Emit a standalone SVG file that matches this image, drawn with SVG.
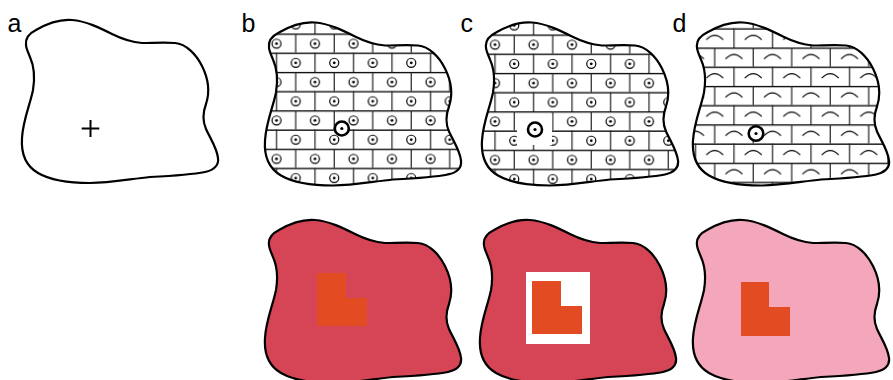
<svg xmlns="http://www.w3.org/2000/svg" xmlns:xlink="http://www.w3.org/1999/xlink" width="893" height="380" viewBox="0 0 893 380">
<style>
.outline{stroke:#000;stroke-width:2.2;stroke-linejoin:round}
.lbl{font-family:"Liberation Sans",Arial,sans-serif;font-size:25px;fill:#000}
.big{fill:#fff;stroke:#000;stroke-width:2.6}
.hl{fill:#000}
.vl{fill:#222}
.sc{fill:none;stroke:#000;stroke-width:1.2}
.arc{fill:none;stroke:#000;stroke-width:1.1}
.red{fill:#d64556}
.pink{fill:#f4a6bb}
.org{fill:#e34c22}
</style>
<defs>
<path id="blob" d="M26,45 C25,38 30,33 36,30 C48,23 60,19 72,20 C86,21 100,28 112,34 C122,39 130,42 142,43 C152,43 165,42 175,43 C186,44 196,54 202,66 C208,78 210,92 206,104 C203,112 202,120 206,129 C210,138 217,148 218,158 C219,166 214,170 205,172 C190,175 170,176 150,177 C130,179 110,183 90,183 C70,183 50,180 38,173 C26,166 21,153 22,138 C23,120 30,105 33,90 C35,78 34,66 30,57 C28,52 26,48 26,45 Z"/>
<g id="tc">
<rect width="38.5" height="38.4" fill="#fff"/>
<rect class="hl" x="0" y="0" width="38.5" height="1.3"/>
<rect class="hl" x="0" y="19.2" width="38.5" height="1.3"/>
<rect class="vl" x="28.275" y="0" width="1.2" height="19.2"/>
<rect class="vl" x="9.025" y="19.2" width="1.2" height="19.2"/>
<circle class="sc" cx="9.625" cy="10.15" r="4.5"/>
<circle cx="9.625" cy="10.15" r="1.4" fill="#000"/>
<circle class="sc" cx="28.875" cy="29.35" r="4.5"/>
<circle cx="28.875" cy="29.35" r="1.4" fill="#000"/>
</g>
<g id="td">
<rect width="38.5" height="38.4" fill="#fff"/>
<rect class="hl" x="0" y="0" width="38.5" height="1.3"/>
<rect class="hl" x="0" y="19.2" width="38.5" height="1.3"/>
<rect class="vl" x="28.275" y="0" width="1.2" height="19.2"/>
<rect class="vl" x="9.025" y="19.2" width="1.2" height="19.2"/>
<path class="arc" d="M1.125,11.5 Q9.625,2.6 18.125,11.5"/>
<path class="arc" d="M20.375,30.7 Q28.875,21.8 37.375,30.7"/>
</g>
<pattern id="pb" patternUnits="userSpaceOnUse" x="293.375" y="31" width="38.5" height="38.4"><use href="#tc"/></pattern>
<pattern id="pc" patternUnits="userSpaceOnUse" x="487.4" y="32" width="38.5" height="38.4"><use href="#tc"/></pattern>
<pattern id="pd" patternUnits="userSpaceOnUse" x="707.875" y="45" width="38.5" height="38.4"><use href="#td"/></pattern>
</defs>
<rect width="893" height="380" fill="#fff"/>

<g id="panel-a">
<use href="#blob" class="outline" fill="#fff"/>
<path d="M81.7,128.5 H99.3 M90.5,120 V137" stroke="#000" stroke-width="2"/>
<text class="lbl" x="7.5" y="31.5">a</text>
</g>

<g id="panel-b-top">
<use href="#blob" class="outline" fill="url(#pb)" transform="translate(243,2.5)"/>
<circle class="big" cx="341.8" cy="128.5" r="7"/>
<circle cx="341.8" cy="128.5" r="1.6" fill="#000"/>
<text class="lbl" x="241.5" y="31.5">b</text>
</g>

<g id="panel-c-top">
<use href="#blob" class="outline" fill="url(#pc)" transform="translate(460,2.5)"/>
<rect x="517" y="114" width="35" height="31" fill="#fff"/>
<circle class="big" cx="535" cy="129.5" r="7"/>
<circle cx="535" cy="129.5" r="1.6" fill="#000"/>
<text class="lbl" x="460.5" y="31.5">c</text>
</g>

<g id="panel-d-top">
<use href="#blob" class="outline" fill="url(#pd)" transform="translate(671,2.5)"/>
<circle class="big" cx="756" cy="133.5" r="7.3"/>
<circle cx="756" cy="133.5" r="1.6" fill="#000"/>
<text class="lbl" x="672.5" y="31.5">d</text>
</g>

<g id="panel-b-bottom">
<use href="#blob" class="outline red" transform="translate(243,200)"/>
<polygon class="org" points="317,273 346,273 346,298 367,298 367,326 317,326"/>
</g>

<g id="panel-c-bottom">
<use href="#blob" class="outline red" transform="translate(458,200)"/>
<rect x="526" y="272" width="64" height="72" fill="#fff"/>
<polygon class="org" points="532,281 561,281 561,306 582,306 582,334 532,334"/>
</g>

<g id="panel-d-bottom">
<use href="#blob" class="outline pink" transform="translate(671,200)"/>
<polygon class="org" points="741,282 769,282 769,307 790,307 790,336 741,336"/>
</g>
</svg>
